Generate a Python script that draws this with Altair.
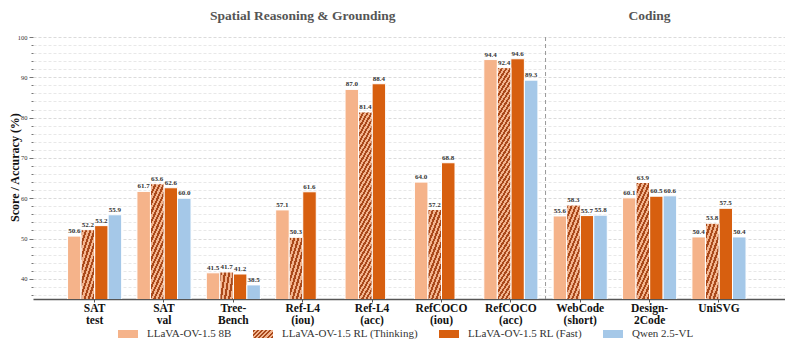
import altair as alt

# ---------------- data ----------------
categories = ["SAT\ntest", "SAT\nval", "Tree-\nBench", "Ref-L4\n(iou)", "Ref-L4\n(acc)",
              "RefCOCO\n(iou)", "RefCOCO\n(acc)", "WebCode\n(short)", "Design-\n2Code", "UniSVG"]
series = ["LLaVA-OV-1.5 8B", "LLaVA-OV-1.5 RL (Thinking)", "LLaVA-OV-1.5 RL (Fast)", "Qwen 2.5-VL"]

base_8b = [50.6, 61.7, 41.5, 57.1, 87.0, 64.0, 94.4, 55.6, 60.1, 50.4]
rl_thinking = [52.2, 63.6, 41.7, 50.3, 81.4, 57.2, 92.4, 58.3, 63.9, 53.8]
rl_fast = [53.2, 62.6, 41.2, 61.6, 88.4, 68.8, 94.6, 55.7, 60.5, 57.5]
qwen = [55.9, 60.0, 38.5, None, None, None, 89.3, 55.8, 60.6, 50.4]

group_titles = ["Spatial Reasoning & Grounding", "Coding"]
group_title_cats = [categories[3], categories[8]]

# ---------------- style ----------------
SERIF = "Liberation Serif"
C_8B, C_FAST, C_QWEN = "#F5B38A", "#D75F0F", "#A5C8E8"
HATCH_DARK, HATCH_LIGHT = "#A9481A", "#F2B48E"
PW, PH = 752, 262
YMIN, YMAX = 35, 100
P_IN, P_OUT = 0.22, 0.53


def hatch(w, h, period=4.2, frac=0.5):
    L = w + h
    r = h / w
    lam = (1 + r) / (1 + r * r)
    stops = []
    k = 0
    while k * period < L:
        a = k * period / L
        b = min((k * period + frac * period) / L, 1.0)
        c = min((k + 1) * period / L, 1.0)
        stops += [{"offset": round(a, 5), "color": HATCH_DARK},
                  {"offset": round(b, 5), "color": HATCH_DARK},
                  {"offset": round(b, 5), "color": HATCH_LIGHT},
                  {"offset": round(c, 5), "color": HATCH_LIGHT}]
        k += 1
    return {"gradient": "linear", "x1": 0, "y1": 0, "x2": lam, "y2": lam * r, "stops": stops}


def hatch_expr(g):
    stops = ",".join("{offset:%s,color:'%s'}" % (s["offset"], s["color"]) for s in g["stops"])
    return "{gradient:'linear',x1:0,y1:0,x2:%.5f,y2:%.5f,stops:[%s]}" % (g["x2"], g["y2"], stops)


step = PW / (len(categories) - P_IN + 2 * P_OUT)
bar_w = (1 - P_IN) * step / len(series)

records = []
for i, cat in enumerate(categories):
    for s, vals in zip(series, [base_8b, rl_thinking, rl_fast, qwen]):
        v = vals[i]
        if v is None:
            continue
        rec = {"cat": cat, "series": s, "value": v}
        if s == series[1]:
            rec["hatch"] = hatch(bar_w, (v - YMIN) / (YMAX - YMIN) * PH)
        records.append(rec)

data = alt.Data(values=records)

legend_hatch = hatch(20, 8)
y_ticks = list(range(36, 101, 2))

x_enc = alt.X("cat:N", scale=alt.Scale(domain=categories, paddingInner=P_IN, paddingOuter=P_OUT, align=0.47),
              sort=categories,
              axis=alt.Axis(title=None, labelExpr="split(datum.label, '\\n')", labelAngle=0,
                            labelFont=SERIF, labelFontWeight="bold", labelFontSize=11.5, labelColor="#111",
                            labelPadding=0, labelLineHeight=12.5, domainColor="#555", domainWidth=1.3,
                            tickColor="#555", tickSize=3, grid=False))
xo_enc = alt.XOffset("series:N", scale=alt.Scale(domain=series), sort=series)
y_enc = alt.Y("value:Q", scale=alt.Scale(domain=[YMIN, YMAX], nice=False, zero=False),
              axis=alt.Axis(title="Score / Accuracy (%)", values=y_ticks, tickCount=len(y_ticks) + 5,
                            labelExpr="datum.value % 10 === 0 ? datum.label : ''", labelOverlap=False,
                            grid=True, gridDash=[3, 2],
                            gridColor={"condition": {"test": "datum.value % 10 === 0", "value": "#d2d2d2"}, "value": "#e2e2e2"},
                            gridWidth=0.8, domain=False, tickColor="#777",
                            tickSize={"condition": {"test": "datum.value % 10 === 0", "value": 4}, "value": 2},
                            labelFont=SERIF, labelFontSize=6.5, labelColor="#333", labelPadding=2,
                            titleFont=SERIF, titleFontWeight="bold", titleFontSize=12, titleColor="#111",
                            titleX=-19, titleY=130, titleBaseline="middle"))

base = alt.Chart(data)

bars = base.mark_bar(stroke="white", strokeWidth=1, clip=True).encode(
    x=x_enc, xOffset=xo_enc, y=y_enc,
    color=alt.Color("series:N", scale=alt.Scale(domain=series,
                                                range=[C_8B, alt.ExprRef(hatch_expr(legend_hatch)), C_FAST, C_QWEN]),
                    legend=alt.Legend(title=None, orient="none", legendX=85, legendY=287, direction="horizontal",
                                      symbolType="M-1,-0.4H1V0.4H-1Z", symbolSize=400, symbolStrokeWidth=0,
                                      labelFont=SERIF, labelFontSize=11, labelColor="#333", labelOffset=9,
                                      columnPadding=21, padding=0)),
).transform_filter(alt.datum.series != series[1])

hatched = base.mark_bar(stroke="white", strokeWidth=1, clip=True).encode(
    x=alt.X("cat:N"), xOffset=alt.XOffset("series:N"), y=alt.Y("value:Q"),
    fill=alt.Fill("hatch:N", scale=None, legend=None),
).transform_filter(alt.datum.series == series[1])

labels = base.mark_text(font=SERIF, fontSize=7, fontWeight="bold", color="#333", baseline="alphabetic", dy=-3).encode(
    x=alt.X("cat:N"), xOffset=alt.XOffset("series:N"), y=alt.Y("value:Q"),
    text=alt.Text("value:Q", format=".1f"),
)

sep = alt.Chart(alt.Data(values=[{"cat": categories[6]}])).mark_rule(
    color="#999", strokeDash=[4, 3], strokeWidth=1, xOffset=P_IN * step / 2).encode(
    x=alt.X("cat:N", bandPosition=1),
    y=alt.datum(YMAX), y2=alt.datum(YMIN),
)

titles = alt.Chart(alt.Data(values=[{"cat": c, "t": t} for c, t in zip(group_title_cats, group_titles)])).mark_text(
    font=SERIF, fontSize=13.5, fontWeight="bold", color="#555", baseline="alphabetic").encode(
    x=alt.X("cat:N"), y=alt.value(-17), text="t:N",
)

chart = alt.layer(bars, hatched, labels, sep, titles).properties(
    width=PW, height=PH,
    padding={"left": 25, "top": 29, "right": 0, "bottom": 46},
    autosize=alt.AutoSizeParams(type="none"),
).configure_view(stroke=None)

chart.save("out.html", embed_options={"renderer": "svg", "actions": False})
